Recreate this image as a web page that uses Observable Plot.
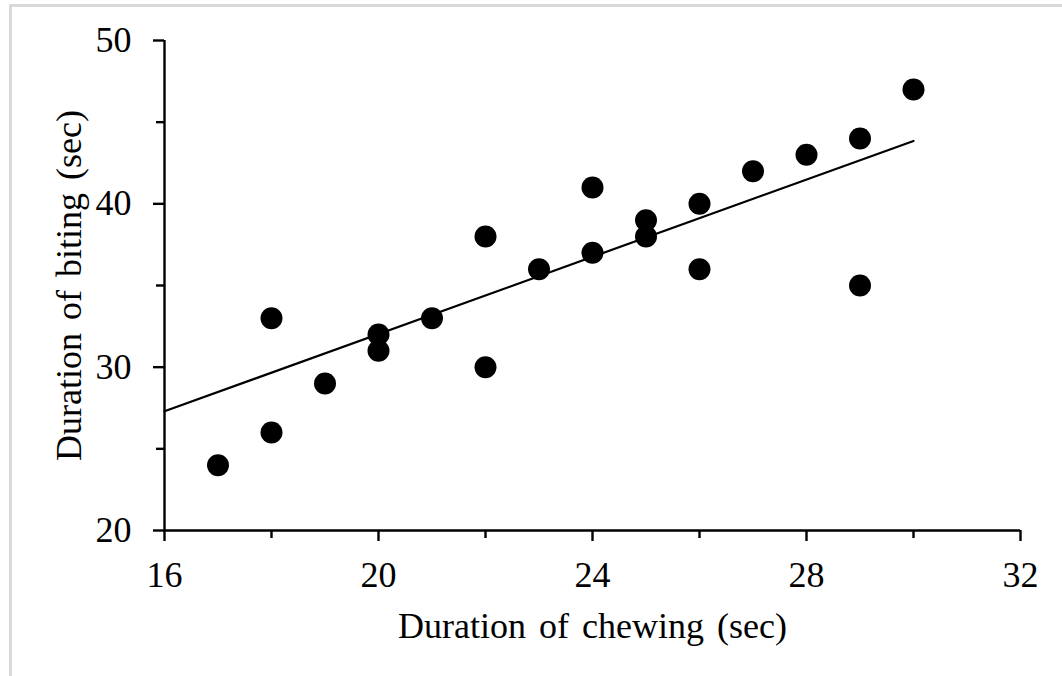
<!DOCTYPE html>
<html>
<head>
<meta charset="utf-8">
<script src="https://cdn.jsdelivr.net/npm/d3@7"></script>
<script src="https://cdn.jsdelivr.net/npm/@observablehq/plot@0.6"></script>
<style>
  html, body { margin: 0; padding: 0; background: #fff; }
  #wrap { position: relative; width: 1062px; height: 676px; overflow: hidden; }
  #frame { position: absolute; left: 9px; top: 4px; right: -10px; bottom: -10px;
           border-top: 3px solid #d9d9d9; border-left: 3px solid #d9d9d9; pointer-events: none; }
  #wrap svg text.title { word-spacing: 4px; }
</style>
</head>
<body>
<div id="wrap"><div id="frame"></div></div>
<script>
// Data
const chewing = [17, 18, 18, 19, 20, 20, 21, 22, 22, 23, 24, 24, 25, 25, 26, 26, 27, 28, 29, 29, 30];
const biting  = [24, 33, 26, 29, 32, 31, 33, 38, 30, 36, 41, 37, 39, 38, 40, 36, 42, 43, 44, 35, 47];
// Fitted trend line end points (as drawn in the reference)
const trendX = [16, 30];
const trendY = [27.3, 43.85];
// Axis ticks
const xMajorTicks = [16, 20, 24, 28, 32];
const xMinorTicks = [18, 22, 26, 30];
const yMajorTicks = [20, 30, 40, 50];
const yMinorTicks = [25, 35, 45];
const xTitle = "Duration of chewing (sec)";
const yTitle = "Duration of biting (sec)";

const points = chewing.map((x, i) => ({x, y: biting[i]}));
const trend = trendX.map((x, i) => ({x, y: trendY[i]}));

const FS = 36;
const chart = Plot.plot({
  width: 1062,
  height: 676,
  marginLeft: 164,
  marginRight: 42,
  marginTop: 40,
  marginBottom: 146,
  style: {fontFamily: "'Liberation Serif', 'Times New Roman', serif", fontSize: FS + "px", color: "#000", background: "transparent"},
  x: {domain: [16, 32], label: null},
  y: {domain: [20, 50], label: null},
  marks: [
    Plot.line(trend, {x: "x", y: "y", stroke: "#000", strokeWidth: 2.2}),
    Plot.dot(points, {x: "x", y: "y", r: 11, fill: "#000", stroke: "none"}),
    Plot.ruleY([20], {stroke: "#000", strokeWidth: 2.4}),
    Plot.ruleX([16], {stroke: "#000", strokeWidth: 2.4}),
    Plot.axisX({ticks: xMajorTicks, tickSize: 11, tickPadding: 20, strokeWidth: 2.4, fontSize: FS, label: null, tickFormat: d => String(d)}),
    Plot.axisX({ticks: xMinorTicks, tickSize: 8, strokeWidth: 2.4, label: null, tickFormat: () => ""}),
    Plot.axisY({ticks: yMajorTicks, tickSize: 11, tickPadding: 22, strokeWidth: 2.4, fontSize: FS, label: null, tickFormat: d => String(d)}),
    Plot.axisY({ticks: yMinorTicks, tickSize: 8, strokeWidth: 2.4, label: null, tickFormat: () => ""}),
    Plot.text([xTitle], {frameAnchor: "bottom", text: d => d, dy: 107, lineAnchor: "bottom", textAnchor: "middle", fontSize: FS, fill: "#000"}),
    Plot.text([yTitle], {frameAnchor: "left", text: d => d, dx: -84, rotate: -90, lineAnchor: "bottom", textAnchor: "middle", fontSize: FS, fill: "#000"})
  ]
});
document.getElementById("wrap").insertBefore(chart, document.getElementById("frame"));
d3.select(chart).selectAll("text").filter(function() { return /\s/.test(this.textContent); }).classed("title", true);
</script>
</body>
</html>
